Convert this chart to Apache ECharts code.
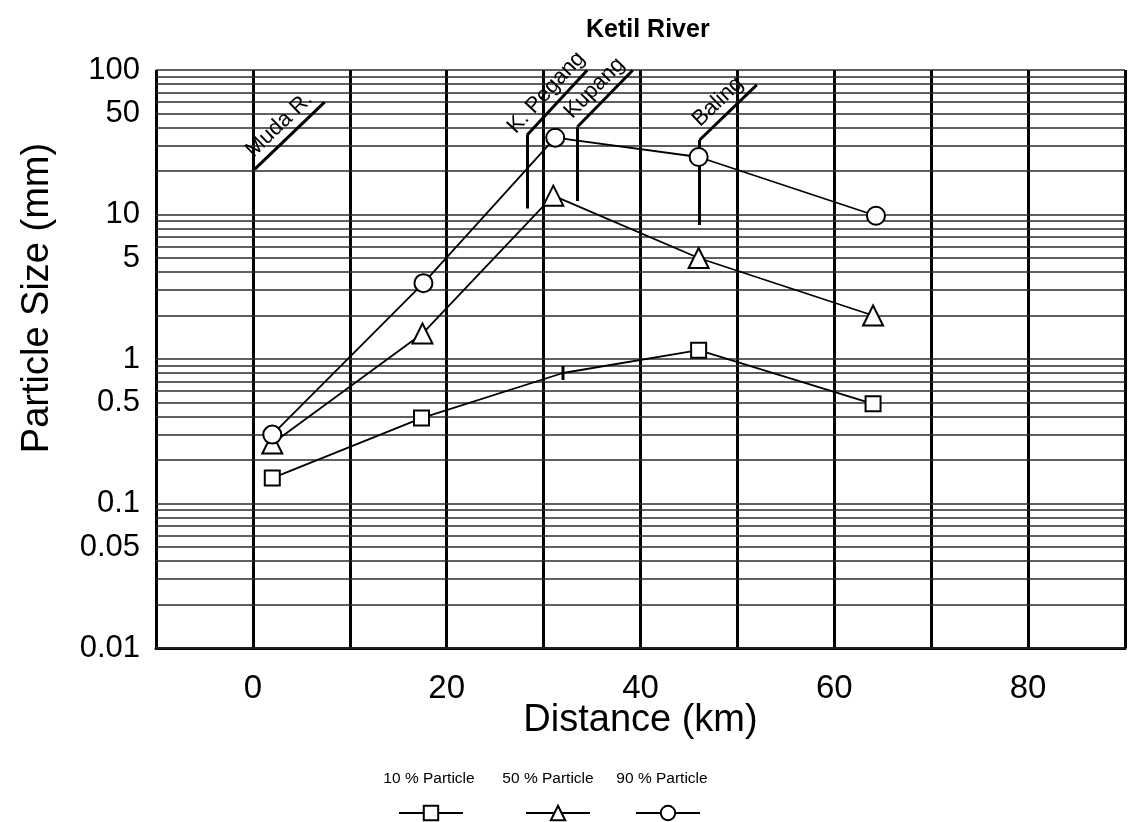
<!DOCTYPE html>
<html>
<head>
<meta charset="utf-8">
<script src="https://cdn.jsdelivr.net/npm/echarts@6/dist/echarts.min.js"></script>
<style>
html,body{margin:0;padding:0;background:#fff;}
#chart{width:1128px;height:822px;}
</style>
</head>
<body>
<div id="chart"></div>
<script>
// ---- data ----
const seriesNames = ['10 % Particle', '50 % Particle', '90 % Particle'];
const distance10 = [2, 17.4, 32, 46, 64];
const distance50 = [2, 17.5, 31, 46, 64];
const distance90 = [2, 17.6, 31.2, 46, 64.3];
const size10 = [0.15, 0.39, 0.8, 1.15, 0.49];
const size50 = [0.26, 1.5, 13.5, 5.0, 2.0];
const size90 = [0.30, 3.35, 34, 25, 9.8];

const xTickLabels = [0, 20, 40, 60, 80];
const yTickLabels = [0.01, 0.1, 1, 10, 100];
const yHalfLabels = [0.05, 0.5, 5, 50];
const yGridValues = [
  0.01, 0.02, 0.03, 0.04, 0.05, 0.06, 0.07, 0.08, 0.09,
  0.1, 0.2, 0.3, 0.4, 0.5, 0.6, 0.7, 0.8, 0.9,
  1, 2, 3, 4, 5, 6, 7, 8, 9,
  10, 20, 30, 40, 50, 60, 70, 80, 90,
  100
];

// tributary / town markers: name, stem x, stem bottom, stem top, leader end x, leader end y
const riverNames = ['Muda R.', 'K. Pegang', 'Kupang', 'Baling'];
const riverStemX = [0.2, 28.3, 33.5, 46.1];
const riverStemBottom = [20.6, 11.0, 12.4, 8.46];
const riverStemTop = [20.6, 35.5, 40.5, 32.8];
const riverLeaderX = [7.4, 34.5, 39.2, 52.0];
const riverLeaderY = [60, 99.5, 99.5, 78.8];

// ---- build ----
const FONT = '"Liberation Sans", Arial, Helvetica, sans-serif';
const pairs = (xs, ys) => xs.map((x, i) => [x, ys[i]]);

const annotationLines = [];
riverNames.forEach((name, i) => {
  if (riverStemTop[i] !== riverStemBottom[i]) {
    annotationLines.push([
      { coord: [riverStemX[i], riverStemBottom[i]], label: { show: false } },
      { coord: [riverStemX[i], riverStemTop[i]] }
    ]);
  }
  annotationLines.push([
    { coord: [riverStemX[i], riverStemTop[i]], name: name,
      label: { show: true, formatter: name, position: 'insideMiddleTop', distance: 4,
               color: '#000', fontSize: 22, fontFamily: FONT } },
    { coord: [riverLeaderX[i], riverLeaderY[i]] }
  ]);
});

const markerStyle = { color: '#fff', borderColor: '#000', borderWidth: 2 };
function dataSeries(name, xs, ys, symbol, size, z) {
  return {
    name: name, type: 'line', z: z,
    data: pairs(xs, ys),
    symbol: symbol, symbolSize: size,
    showAllSymbol: true,
    lineStyle: { color: '#000', width: 1.8 },
    itemStyle: markerStyle,
    clip: false,
    animation: false
  };
}

const s10 = dataSeries(seriesNames[0], distance10, size10, 'rect', 15, 6);
// the third 10% point is drawn as a plain tick in the source
s10.data = s10.data.map((p, i) => i === 2
  ? { value: p, symbol: 'rect', symbolSize: [3, 14], itemStyle: { color: '#000', borderWidth: 0 } }
  : p);
const s50 = dataSeries(seriesNames[1], distance50, size50, 'triangle', 20, 6);
const s90 = dataSeries(seriesNames[2], distance90, size90, 'circle', 18, 6);

const option = {
  backgroundColor: '#fff',
  animation: false,
  title: {
    text: 'Ketil River',
    left: 581, top: 13,
    textStyle: { fontFamily: FONT, fontWeight: 'bold', fontSize: 25, color: '#000' }
  },
  grid: { left: 156, right: 0, top: 70, bottom: 174, containLabel: false },
  xAxis: {
    type: 'value', min: -10, max: 90, interval: 10,
    name: 'Distance (km)', nameLocation: 'middle', nameGap: 54, nameMoveOverlap: false,
    nameTextStyle: { fontFamily: FONT, fontSize: 38, color: '#000' },
    axisLine: { show: true, lineStyle: { color: '#000', width: 3 } },
    axisTick: { show: false },
    axisLabel: {
      margin: 24, fontFamily: FONT, fontSize: 33, color: '#000',
      formatter: v => xTickLabels.indexOf(v) >= 0 ? String(v) : ''
    },
    splitLine: { show: true, lineStyle: { color: '#000', width: 3 } }
  },
  yAxis: {
    type: 'log', logBase: 10, min: 0.01, max: 100, splitNumber: 4,
    axisLine: { show: false },
    axisTick: { show: false },
    axisLabel: {
      margin: 16, fontFamily: FONT, fontSize: 31, color: '#000',
      formatter: v => {
        const m = yTickLabels.find(t => Math.abs(t - v) / t < 1e-6);
        return m !== undefined ? String(m) : '';
      }
    },
    splitLine: { show: false }
  },
  legend: seriesNames.map((n, i) => ({
    data: [n],
    left: [393, 520, 630][i], top: 799,
    itemWidth: 64, itemHeight: 18,
    formatter: () => '',
    selectedMode: false,
    textStyle: { fontSize: 1 }
  })),
  graphic: [
    {
      type: 'text', x: 38, y: 298, rotation: Math.PI / 2,
      style: { text: 'Particle Size (mm)', fontFamily: FONT, fontSize: 38, fill: '#000',
               textAlign: 'center', textVerticalAlign: 'middle' }
    },
    ...seriesNames.map((n, i) => ({
      type: 'text', x: [429, 548, 662][i], y: 779,
      style: { text: n, fontFamily: FONT, fontSize: 15.5, fill: '#000',
               textAlign: 'center', textVerticalAlign: 'middle' }
    }))
  ],
  series: [
    {
      name: 'grid', type: 'line', data: [], z: 1, silent: true, clip: false,
      markLine: {
        silent: true, symbol: ['none', 'none'], animation: false,
        lineStyle: { color: '#2a2a2a', width: 1.5, type: 'solid' },
        label: { show: false },
        data: yGridValues.map(v => ({ yAxis: v }))
      }
    },
    {
      name: 'halfLabels', type: 'line', data: [], z: 1, silent: true, clip: false,
      markLine: {
        silent: true, symbol: ['none', 'none'], animation: false,
        lineStyle: { color: 'rgba(0,0,0,0)', width: 1 },
        label: { show: true, position: 'start', distance: 16, fontFamily: FONT,
                 fontSize: 31, color: '#000', formatter: p => String(p.value) },
        data: yHalfLabels.map(v => ({ yAxis: v }))
      }
    },
    {
      name: 'rivers', type: 'line', data: [], z: 3, silent: true, clip: false,
      markLine: {
        silent: true, symbol: ['none', 'none'], animation: false,
        lineStyle: { color: '#000', width: 3, type: 'solid' },
        label: { show: false },
        data: annotationLines
      }
    },
    s10, s50, s90
  ]
};

const chart = echarts.init(document.getElementById('chart'), null, { renderer: 'canvas' });
chart.setOption(option);
</script>
</body>
</html>
